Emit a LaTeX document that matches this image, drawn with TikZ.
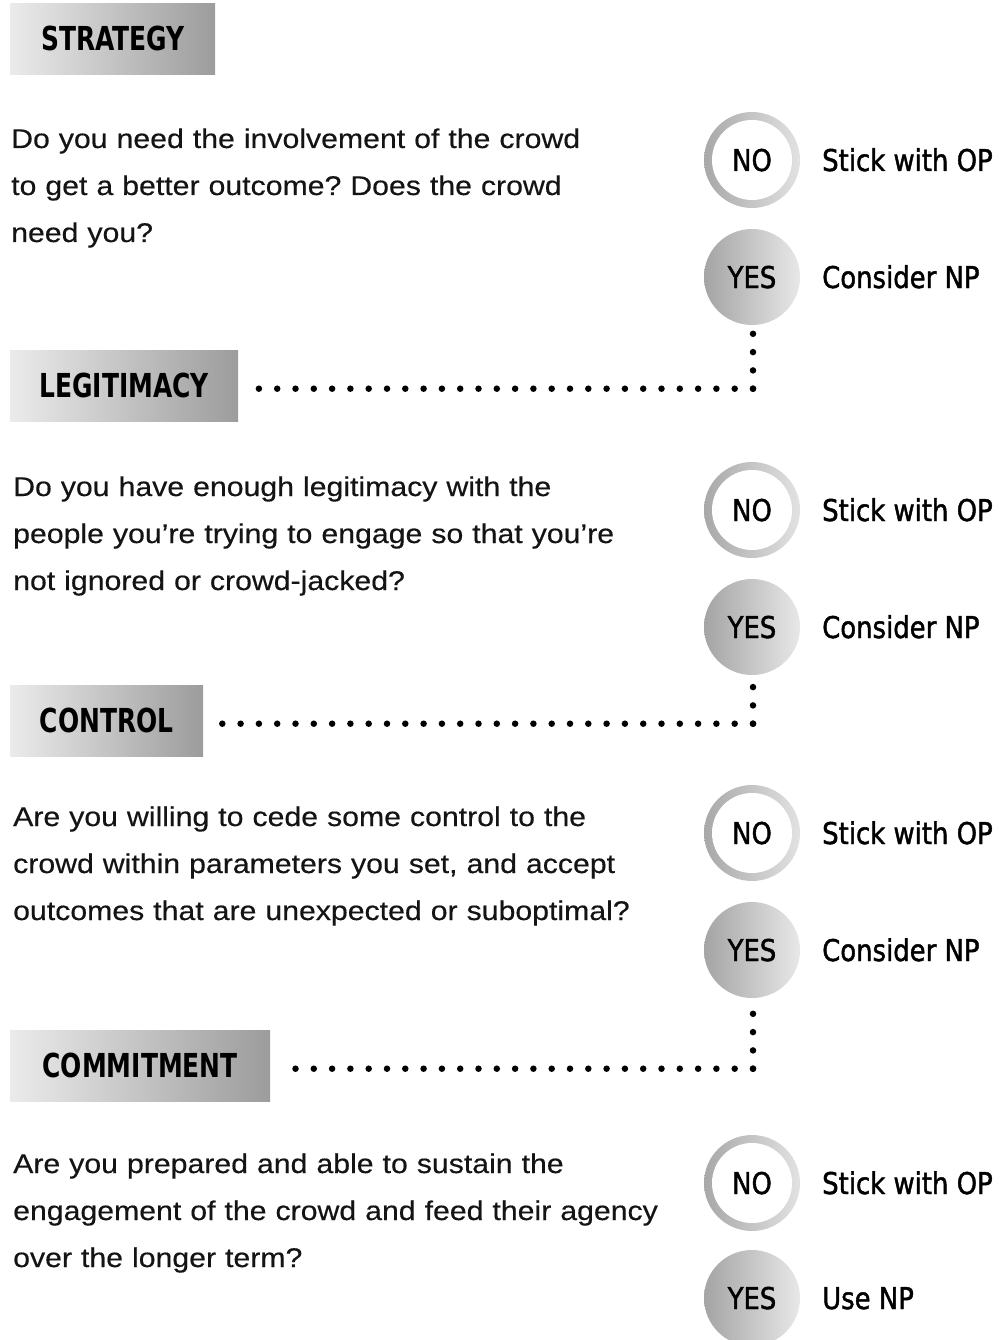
\documentclass[tikz,border=0pt]{standalone}
\usepackage{fontspec}
\usetikzlibrary{calc}
\newfontfamily\qfont[FakeStretch=1.12,FakeBold=0.4]{Liberation Sans}
\newfontfamily\labfont[FakeStretch=0.96,FakeBold=1.4]{DejaVu Sans Condensed}
\newfontfamily\hdfont[FakeStretch=0.84]{DejaVu Sans Condensed Bold}
\definecolor{hdl}{HTML}{EBEBEB}
\definecolor{hdr}{HTML}{9C9C9C}
\definecolor{ringl}{HTML}{A8A8A8}
\definecolor{ringr}{HTML}{E2E2E2}
\definecolor{yesl}{HTML}{A4A4A4}
\definecolor{yesr}{HTML}{E8E8E8}
\definecolor{qtext}{HTML}{141414}
\tikzset{
  headbox/.style={anchor=north west, minimum height=71, inner sep=0,
    left color=hdl, right color=hdr, font=\hdfont\fontsize{33}{36}\selectfont, text=black},
  question/.style={anchor=base west, inner sep=0, text width=760, align=left,
    font=\qfont\fontsize{27}{47}\selectfont, text=qtext},
  nobtn/.style={circle, minimum size=96, inner sep=0, left color=ringl, right color=ringr,
    path picture={\fill[white] (path picture bounding box.center) circle (40);}},
  yesbtn/.style={circle, minimum size=96, inner sep=0, left color=yesl, right color=yesr},
  btntext/.style={anchor=base, inner sep=0, font=\labfont\fontsize{30}{32}\selectfont},
  outcome/.style={anchor=base west, inner sep=0, font=\labfont\fontsize{30}{32}\selectfont},
  dotline/.style={line width=6.5pt, line cap=round, dash pattern=on 0pt off 18.3pt, black},
}
\begin{document}
\frenchspacing
\begin{tikzpicture}[x=1pt,y=-1pt]
\useasboundingbox (0,0) rectangle (1002,1340);

% section headings
\node[headbox, minimum width=205] (h1) at (10,3) {STRATEGY};
\node[headbox, minimum width=228] (h2) at (10,350) {LEGITIMACY};
\node[headbox, minimum width=193] (h3) at (10,685) {CONTROL};
\node[headbox, minimum width=260] (h4) at (10,1030) {COMMITMENT};

% questions
\node[question] (q1) at (11,148) {Do you need the involvement of the crowd\\to get a better outcome? Does the crowd\\need you?};
\node[question] (q2) at (13,496) {Do you have enough legitimacy with the\\people you’re trying to engage so that you’re\\not ignored or crowd-jacked?};
\node[question] (q3) at (13,826) {Are you willing to cede some control to the\\crowd within parameters you set, and accept\\outcomes that are unexpected or suboptimal?};
\node[question] (q4) at (13,1173) {Are you prepared and able to sustain the\\engagement of the crowd and feed their agency\\over the longer term?};

% answer buttons
\foreach \i/\ny/\yy in {1/160/277, 2/510/627, 3/833/950, 4/1183/1298}{
  \node[nobtn] (no\i) at (752,\ny) {};
  \node[yesbtn] (yes\i) at (752,\yy) {};
  \node[btntext] (not\i) at ($(no\i.center)+(0,11)$) {NO};
  \node[btntext] (yest\i) at ($(yes\i.center)+(0,11)$) {YES};
  \node[outcome] (stick\i) at ($(no\i.center)+(70,11)$) {Stick with OP};
}
\node[outcome] (nxt1) at ($(yes1.center)+(70,11)$) {Consider NP};
\node[outcome] (nxt2) at ($(yes2.center)+(70,11)$) {Consider NP};
\node[outcome] (nxt3) at ($(yes3.center)+(70,11)$) {Consider NP};
\node[outcome] (nxt4) at ($(yes4.center)+(70,11)$) {Use NP};

% dotted links from each YES to the next heading
\foreach \a/\b in {1/2, 2/3, 3/4}{
  \coordinate (c\a) at ($(yes\a.south |- h\b.east)+(1,3)$);
  \draw[dotline] (c\a) -- ($(yes\a.south)+(1,6)$);
  \draw[dotline] (c\a) -- ($(h\b.east)+(18,3)$);
}
\end{tikzpicture}
\end{document}
